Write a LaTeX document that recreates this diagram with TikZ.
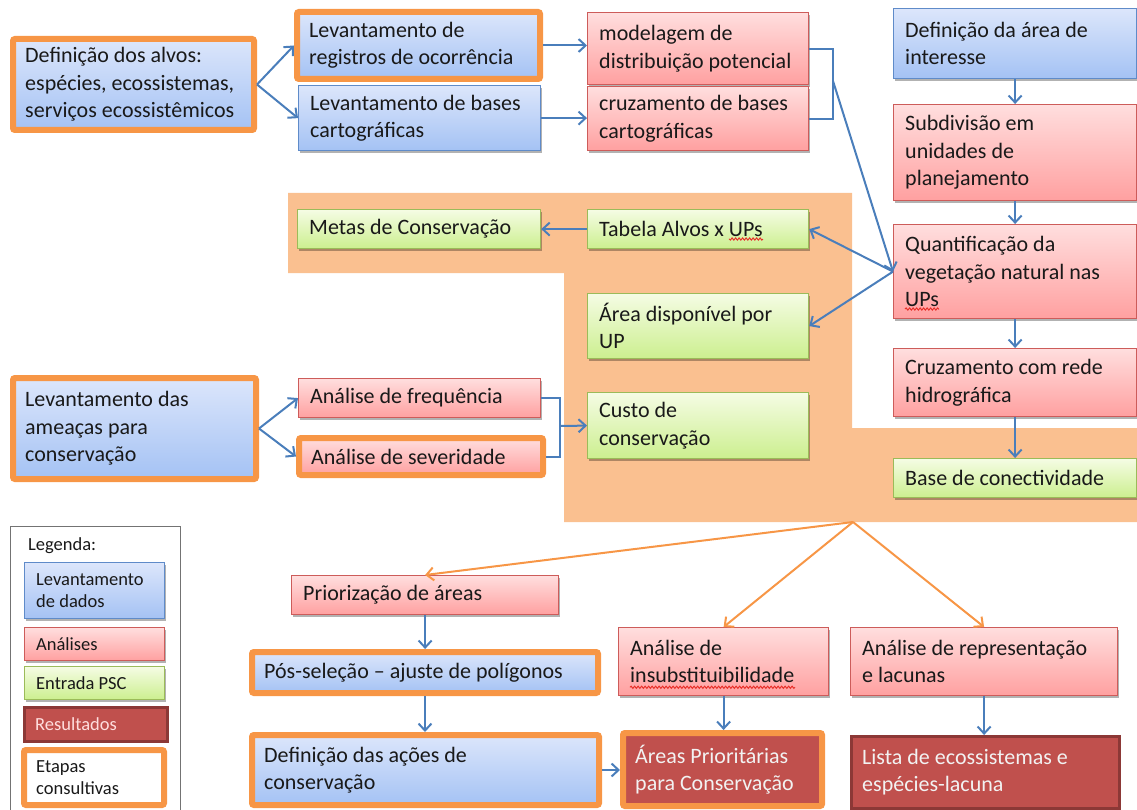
\documentclass[tikz,border=0pt]{standalone}
\usepackage{fontspec}
\setmainfont{Carlito}
\usetikzlibrary{arrows.meta,shadows,decorations.pathmorphing,calc}
\definecolor{bT}{HTML}{DCE6FB}
\definecolor{bB}{HTML}{A4C2F4}
\definecolor{bD}{HTML}{5F8BC9}
\definecolor{rT}{HTML}{FFDEDE}
\definecolor{rB}{HTML}{FFA0A0}
\definecolor{rD}{HTML}{CD5C5A}
\definecolor{gT}{HTML}{F5FCE4}
\definecolor{gB}{HTML}{CCEF8F}
\definecolor{gD}{HTML}{9BBB59}
\definecolor{dR}{HTML}{C0504D}
\definecolor{dRD}{HTML}{8C3836}
\definecolor{orC}{HTML}{F79646}
\definecolor{regC}{HTML}{FAC090}
\definecolor{arB}{HTML}{4A7EBB}
\definecolor{sqC}{HTML}{E8302A}
% #1 inset, #2 box style, #3 name, #4 x1, #5 y1, #6 x2, #7 y2, #8 text style, #9 text
\newcommand\mybox[9][0]{%
  \pgfmathsetmacro\bw{#6-#4-2*#1}\pgfmathsetmacro\bh{#7-#5-2*#1}%
  \node[#2, anchor=north west, minimum width=\bw pt, minimum height=\bh pt, inner sep=0pt] (#3) at (#4,#5) {};
  \node[#8, anchor=west, align=left, inner sep=0pt] (#3t) at ([xshift=#1pt+12pt]#3.west) {#9};}
\tikzset{
  shad/.style={drop shadow={shadow xshift=1pt,shadow yshift=-2pt,opacity=0.3,fill=black}},
  bluebox/.style={shad, draw=bD, line width=1.2pt, top color=bT, bottom color=bB},
  redbox/.style={shad, draw=rD, line width=1.2pt, top color=rT, bottom color=rB},
  greenbox/.style={shad, draw=gD, line width=1.2pt, top color=gT, bottom color=gB},
  darkbox/.style={shad, draw=dRD, line width=2.5pt, fill=dR},
  consult/.style={draw=orC, line width=6pt, rounded corners=2pt},
  maintxt/.style={font=\fontsize{22}{27.5}\selectfont, text=black!90},
  lighttxt/.style={font=\fontsize{22}{27.5}\selectfont, text=white!95!black},
  legtxt/.style={font=\fontsize{18.5}{21.5}\selectfont, text=black!90},
  leglight/.style={font=\fontsize{18.5}{21.5}\selectfont, text=rT},
  barrow/.style={draw=arB, line width=2pt, -{Straight Barb[length=7pt,width=13pt]}},
  oarrow/.style={draw=orC, line width=2pt, -{Straight Barb[length=7pt,width=13pt]}},
  bline/.style={draw=arB, line width=2pt},
  squig/.style={draw=sqC, line width=1pt, decorate, decoration={snake, amplitude=1.1pt, segment length=3.5pt}},
}
\begin{document}
\begin{tikzpicture}[x=1pt,y=-1pt]
\useasboundingbox (0,0) rectangle (1137,810);
% background region
\fill[regC] (288,193) -- (852,193) -- (852,428) -- (1137,428) -- (1137,522) -- (564,522) -- (564,273) -- (288,273) -- cycle;

% top-left
\mybox[3]{bluebox,consult}{defalvos}{10}{36}{257}{133}{maintxt}{Definição dos alvos:\\espécies, ecossistemas,\\serviços ecossistêmicos}
\mybox[3]{bluebox,consult}{levreg}{294}{9}{543}{82}{maintxt}{Levantamento de\\registros de ocorrência}
\mybox{bluebox}{levbases}{298}{85}{540}{150}{maintxt}{Levantamento de bases\\cartográficas}
\mybox{redbox}{modelagem}{587}{12}{808}{84}{maintxt}{modelagem de\\distribuição potencial}
\mybox{redbox}{cruzbases}{587}{86}{808}{150}{maintxt}{cruzamento de bases\\cartográficas}
% right column
\mybox{bluebox}{defarea}{893}{8}{1136}{78}{maintxt}{Definição da área de\\interesse}
\mybox{redbox}{subdiv}{893}{104}{1136}{200}{maintxt}{Subdivisão em\\unidades de\\planejamento}
\mybox{redbox}{quant}{893}{224}{1136}{318}{maintxt}{Quantificação da\\vegetação natural nas\\UPs}
\mybox{redbox}{cruzrede}{893}{348}{1136}{416}{maintxt}{Cruzamento com rede\\hidrográfica}
\mybox{greenbox}{baseconect}{893}{458}{1136}{497}{maintxt}{Base de conectividade}
% middle
\mybox{greenbox}{metas}{297}{209}{540}{248}{maintxt}{Metas de Conservação}
\mybox{greenbox}{tabela}{587}{209}{808}{248}{maintxt}{Tabela Alvos x UPs}
\mybox{greenbox}{areadisp}{587}{293}{808}{358}{maintxt}{Área disponível por\\UP}
\mybox{greenbox}{custo}{587}{392}{808}{458}{maintxt}{Custo de\\conservação}
\mybox[3]{bluebox,consult}{levameacas}{10}{375}{259}{482}{maintxt}{Levantamento das\\ameaças para\\conservação}
\mybox{redbox}{freq}{298}{378}{540}{417}{maintxt}{Análise de frequência}
\mybox[3]{redbox,consult}{sever}{296}{435}{546}{478}{maintxt}{Análise de severidade}
% bottom
\mybox{redbox}{prior}{291}{575}{558}{614}{maintxt}{Priorização de áreas}
\mybox[3]{bluebox,consult}{pos}{249}{649}{601}{696}{maintxt}{Pós-seleção – ajuste de polígonos}
\mybox[3]{bluebox,consult}{defacoes}{249}{732}{602}{808}{maintxt}{Definição das ações de\\conservação}
\mybox{redbox}{insub}{618}{627}{828}{695}{maintxt}{Análise de\\insubstituibilidade}
\mybox{redbox}{repres}{850}{627}{1117}{695}{maintxt}{Análise de representação\\e lacunas}
\mybox[3]{darkbox,consult}{areasprio}{620}{730}{825}{809}{lighttxt}{Áreas Prioritárias\\para Conservação}
\mybox{darkbox}{lista}{850}{735}{1118}{807}{lighttxt}{Lista de ecossistemas e\\espécies-lacuna}
% legend
\node[draw=black!55, line width=1pt, minimum width=170pt, minimum height=290pt, anchor=north west, inner sep=0pt] (legend) at (10,526) {};
\node[legtxt, anchor=west, inner sep=0pt] (legtitle) at (28,546) {Legenda:};
\mybox{bluebox}{legblue}{24}{562}{164}{618}{legtxt}{Levantamento\\de dados}
\mybox{redbox}{legred}{24}{627}{164}{660}{legtxt}{Análises}
\mybox{greenbox}{leggreen}{24}{666}{164}{699}{legtxt}{Entrada PSC}
\mybox{darkbox}{legres}{23}{706}{166}{740}{leglight}{Resultados}
\mybox[3]{consult,fill=white}{legetapas}{21}{747}{167}{808}{legtxt}{Etapas\\consultivas}

% spell-check squiggles
\draw[squig] ([yshift=-2pt]tabelat.south east) -- ([yshift=-2pt,xshift=-34pt]tabelat.south east);
\draw[squig] ([yshift=-2pt]quantt.south west) -- ([yshift=-2pt,xshift=34pt]quantt.south west);
\draw[squig] ([yshift=-4pt]insubt.south west) -- ([yshift=-4pt,xshift=165pt]insubt.south west);

% connectors
\coordinate (b1) at (833,81);
\coordinate (b2) at (560,426);
\coordinate (fan) at (853,522);
\draw[barrow] (defalvos.east) -- (levreg.west);
\draw[barrow] (defalvos.east) -- (levbases.west);
\draw[barrow] (levreg.east) -- (levreg.east -| modelagem.west);
\draw[barrow] (levbases.east) -- (levbases.east -| cruzbases.west);
\draw[bline] (modelagem.east) -- (modelagem.east -| b1) -- (cruzbases.east -| b1) -- (cruzbases.east);
\draw[barrow] (b1) -- (quant.west);
\draw[barrow] (quant.west) -- (tabela.east);
\draw[barrow] (quant.west) -- (areadisp.east);
\draw[barrow] (tabela.west) -- (metas.east);
\draw[barrow] (defarea.south) -- (subdiv.north);
\draw[barrow] (subdiv.south) -- (quant.north);
\draw[barrow] (quant.south) -- (cruzrede.north);
\draw[barrow] (cruzrede.south) -- (baseconect.north);
\draw[barrow] (levameacas.east) -- (freq.west);
\draw[barrow] (levameacas.east) -- (sever.west);
\draw[bline] (freq.east) -- (freq.east -| b2) -- (sever.east -| b2) -- (sever.east);
\draw[barrow] (b2) -- (custo.west);
\draw[barrow] (prior.south) -- (prior.south |- pos.north);
\draw[barrow] (pos.south) -- (pos.south |- defacoes.north);
\draw[barrow] (insub.south) -- (insub.south |- areasprio.north);
\draw[barrow] (repres.south) -- (repres.south |- lista.north);
\draw[barrow] (defacoes.east) -- (defacoes.east -| areasprio.west);
\draw[oarrow] (fan) -- (prior.north);
\draw[oarrow] (fan) -- (insub.north);
\draw[oarrow] (fan) -- (repres.north);
\end{tikzpicture}
\end{document}
